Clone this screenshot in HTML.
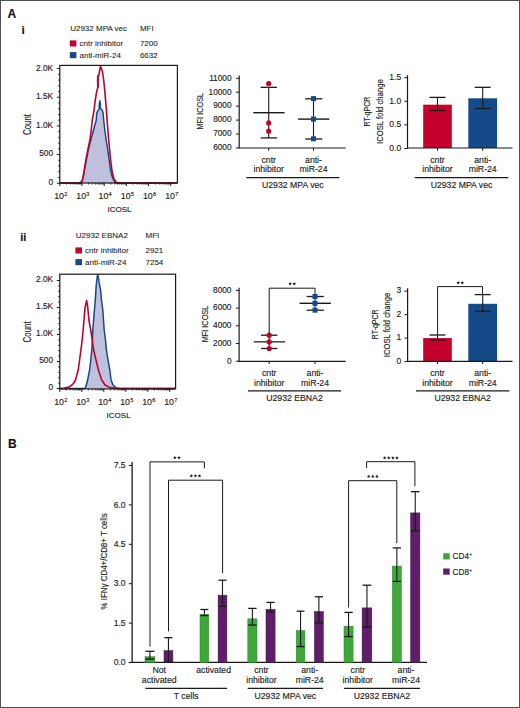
<!DOCTYPE html>
<html><head><meta charset="utf-8"><style>
html,body{margin:0;padding:0;background:#fff;}
svg{display:block;font-family:"Liberation Sans", sans-serif;}
text{stroke:#2a2a2a;stroke-width:0.15px;paint-order:stroke;}
text.thin{stroke-width:0.08px;}
</style></head><body>
<svg width="520" height="708" viewBox="0 0 520 708">
<rect x="0" y="0" width="520" height="708" fill="#fff"/>
<rect x="0.5" y="0.5" width="519" height="707" fill="none" stroke="#505050" stroke-width="1"/>
<text x="7.4" y="17.6" font-size="12" text-anchor="start" fill="#111" font-weight="bold" >A</text>
<text x="21.5" y="34.3" font-size="11.8" text-anchor="start" fill="#111" font-weight="bold" >i</text>
<text x="20.2" y="241.2" font-size="11" text-anchor="start" fill="#111" font-weight="bold" >ii</text>
<text x="8.0" y="448.4" font-size="12" text-anchor="start" fill="#111" font-weight="bold" >B</text>
<line x1="97.9" y1="75.5" x2="98.0" y2="87.5" stroke="#c5002b" stroke-width="2.0"/>
<text x="70.2" y="31" font-size="8.0" text-anchor="start" fill="#222" font-weight="normal"  class="thin">U2932 MPA vec</text>
<text x="139.9" y="31" font-size="8.0" text-anchor="start" fill="#222" font-weight="normal"  class="thin">MFI</text>
<rect x="69.80000000000001" y="40.4" width="6.6" height="6.1" fill="#c5002b"/>
<text x="79.5" y="46" font-size="8.0" text-anchor="start" fill="#222" font-weight="normal"  class="thin">cntr inhibitor</text>
<text x="139.9" y="46" font-size="8.0" text-anchor="start" fill="#222" font-weight="normal"  class="thin">7200</text>
<rect x="69.80000000000001" y="52.1" width="6.6" height="6.1" fill="#144a88"/>
<text x="79.5" y="57.6" font-size="8.0" text-anchor="start" fill="#222" font-weight="normal"  class="thin">anti-miR-24</text>
<text x="139.9" y="57.6" font-size="8.0" text-anchor="start" fill="#222" font-weight="normal"  class="thin">6632</text>
<polygon points="60,183 80,183 81.6,182.4 83.0,178 84.4,170 86.3,160 88.3,150 90.8,140 93.5,130 95.2,124 96.3,120 96.6,114 97.6,111 99.2,109.5 99.3,104 99.8,100.8 100.3,104 100.4,108.5 101.8,109.5 102.9,112 103.7,120 104.8,130 106.2,140 107.8,150 109.2,160 110.5,170 112.5,178 115,182.4 118,183 177,183 177,183.2 60,183.2" fill="#bfc0dc"/>
<polyline points="60,183 80,183 81.6,182.4 83.0,178 84.4,170 86.3,160 88.3,150 90.8,140 93.5,130 95.2,124 96.3,120 96.6,114 97.6,111 99.2,109.5 99.3,104 99.8,100.8 100.3,104 100.4,108.5 101.8,109.5 102.9,112 103.7,120 104.8,130 106.2,140 107.8,150 109.2,160 110.5,170 112.5,178 115,182.4 118,183 177,183" fill="none" stroke="#144a88" stroke-width="1.5" stroke-linejoin="round"/>
<polyline points="60,183 70,183 78,183 80.5,182.4 82.5,180 84,172 85.9,160 87.8,150 89.9,140 91.2,130 92.3,120 93.8,112 95.2,100.5 96.6,92 97.9,87 97.6,80 98.2,76 99.0,74.5 99.6,71 100.5,66.2 101.4,68.5 102.4,71.6 103.4,78 103.8,81.2 104.7,90 105.6,100.5 106.4,110 107.2,121.6 108.7,140 110.6,160 112.2,172 114,179 116.6,182.4 120,183 177,183" fill="none" stroke="#c5002b" stroke-width="1.6" stroke-linejoin="round"/>
<rect x="59.8" y="65.4" width="117.60000000000001" height="117.6" fill="none" stroke="#1a1a1a" stroke-width="1.2"/>
<line x1="56.8" y1="183.2" x2="59.8" y2="183.2" stroke="#1a1a1a" stroke-width="1"/>
<line x1="58.199999999999996" y1="177.47" x2="59.8" y2="177.47" stroke="#1a1a1a" stroke-width="1"/>
<line x1="58.199999999999996" y1="171.74" x2="59.8" y2="171.74" stroke="#1a1a1a" stroke-width="1"/>
<line x1="58.199999999999996" y1="166.01" x2="59.8" y2="166.01" stroke="#1a1a1a" stroke-width="1"/>
<line x1="58.199999999999996" y1="160.28" x2="59.8" y2="160.28" stroke="#1a1a1a" stroke-width="1"/>
<line x1="56.8" y1="154.55" x2="59.8" y2="154.55" stroke="#1a1a1a" stroke-width="1"/>
<line x1="58.199999999999996" y1="148.82" x2="59.8" y2="148.82" stroke="#1a1a1a" stroke-width="1"/>
<line x1="58.199999999999996" y1="143.09" x2="59.8" y2="143.09" stroke="#1a1a1a" stroke-width="1"/>
<line x1="58.199999999999996" y1="137.36" x2="59.8" y2="137.36" stroke="#1a1a1a" stroke-width="1"/>
<line x1="58.199999999999996" y1="131.63" x2="59.8" y2="131.63" stroke="#1a1a1a" stroke-width="1"/>
<line x1="56.8" y1="125.9" x2="59.8" y2="125.9" stroke="#1a1a1a" stroke-width="1"/>
<line x1="58.199999999999996" y1="120.17" x2="59.8" y2="120.17" stroke="#1a1a1a" stroke-width="1"/>
<line x1="58.199999999999996" y1="114.44" x2="59.8" y2="114.44" stroke="#1a1a1a" stroke-width="1"/>
<line x1="58.199999999999996" y1="108.71" x2="59.8" y2="108.71" stroke="#1a1a1a" stroke-width="1"/>
<line x1="58.199999999999996" y1="102.98" x2="59.8" y2="102.98" stroke="#1a1a1a" stroke-width="1"/>
<line x1="56.8" y1="97.25" x2="59.8" y2="97.25" stroke="#1a1a1a" stroke-width="1"/>
<line x1="58.199999999999996" y1="91.52" x2="59.8" y2="91.52" stroke="#1a1a1a" stroke-width="1"/>
<line x1="58.199999999999996" y1="85.79" x2="59.8" y2="85.79" stroke="#1a1a1a" stroke-width="1"/>
<line x1="58.199999999999996" y1="80.06" x2="59.8" y2="80.06" stroke="#1a1a1a" stroke-width="1"/>
<line x1="58.199999999999996" y1="74.33" x2="59.8" y2="74.33" stroke="#1a1a1a" stroke-width="1"/>
<line x1="56.8" y1="68.6" x2="59.8" y2="68.6" stroke="#1a1a1a" stroke-width="1"/>
<text x="53.099999999999994" y="185.1" font-size="8.3" text-anchor="end" fill="#222" font-weight="normal" >0</text>
<text x="53.099999999999994" y="156.45" font-size="8.3" text-anchor="end" fill="#222" font-weight="normal" >500</text>
<text x="53.099999999999994" y="127.8" font-size="8.3" text-anchor="end" fill="#222" font-weight="normal" >1.0K</text>
<text x="53.099999999999994" y="99.15" font-size="8.3" text-anchor="end" fill="#222" font-weight="normal" >1.5K</text>
<text x="53.099999999999994" y="70.5" font-size="8.3" text-anchor="end" fill="#222" font-weight="normal" >2.0K</text>
<line x1="59.8" y1="183" x2="59.8" y2="186" stroke="#1a1a1a" stroke-width="1"/>
<line x1="66.48" y1="183" x2="66.48" y2="184.6" stroke="#1a1a1a" stroke-width="0.8"/>
<line x1="70.39" y1="183" x2="70.39" y2="184.6" stroke="#1a1a1a" stroke-width="0.8"/>
<line x1="73.17" y1="183" x2="73.17" y2="184.6" stroke="#1a1a1a" stroke-width="0.8"/>
<line x1="75.32" y1="183" x2="75.32" y2="184.6" stroke="#1a1a1a" stroke-width="0.8"/>
<line x1="77.07" y1="183" x2="77.07" y2="184.6" stroke="#1a1a1a" stroke-width="0.8"/>
<line x1="78.56" y1="183" x2="78.56" y2="184.6" stroke="#1a1a1a" stroke-width="0.8"/>
<line x1="79.85" y1="183" x2="79.85" y2="184.6" stroke="#1a1a1a" stroke-width="0.8"/>
<line x1="80.98" y1="183" x2="80.98" y2="184.6" stroke="#1a1a1a" stroke-width="0.8"/>
<text x="60.70" y="198.70" font-size="8.8" text-anchor="middle" fill="#222">10<tspan font-size="5.6" dy="-3.0" dx="0.2">2</tspan></text>
<line x1="82.0" y1="183" x2="82.0" y2="186" stroke="#1a1a1a" stroke-width="1"/>
<line x1="88.68" y1="183" x2="88.68" y2="184.6" stroke="#1a1a1a" stroke-width="0.8"/>
<line x1="92.59" y1="183" x2="92.59" y2="184.6" stroke="#1a1a1a" stroke-width="0.8"/>
<line x1="95.37" y1="183" x2="95.37" y2="184.6" stroke="#1a1a1a" stroke-width="0.8"/>
<line x1="97.52" y1="183" x2="97.52" y2="184.6" stroke="#1a1a1a" stroke-width="0.8"/>
<line x1="99.27" y1="183" x2="99.27" y2="184.6" stroke="#1a1a1a" stroke-width="0.8"/>
<line x1="100.76" y1="183" x2="100.76" y2="184.6" stroke="#1a1a1a" stroke-width="0.8"/>
<line x1="102.05" y1="183" x2="102.05" y2="184.6" stroke="#1a1a1a" stroke-width="0.8"/>
<line x1="103.18" y1="183" x2="103.18" y2="184.6" stroke="#1a1a1a" stroke-width="0.8"/>
<text x="82.90" y="198.70" font-size="8.8" text-anchor="middle" fill="#222">10<tspan font-size="5.6" dy="-3.0" dx="0.2">3</tspan></text>
<line x1="104.2" y1="183" x2="104.2" y2="186" stroke="#1a1a1a" stroke-width="1"/>
<line x1="110.88" y1="183" x2="110.88" y2="184.6" stroke="#1a1a1a" stroke-width="0.8"/>
<line x1="114.79" y1="183" x2="114.79" y2="184.6" stroke="#1a1a1a" stroke-width="0.8"/>
<line x1="117.57" y1="183" x2="117.57" y2="184.6" stroke="#1a1a1a" stroke-width="0.8"/>
<line x1="119.72" y1="183" x2="119.72" y2="184.6" stroke="#1a1a1a" stroke-width="0.8"/>
<line x1="121.47" y1="183" x2="121.47" y2="184.6" stroke="#1a1a1a" stroke-width="0.8"/>
<line x1="122.96" y1="183" x2="122.96" y2="184.6" stroke="#1a1a1a" stroke-width="0.8"/>
<line x1="124.25" y1="183" x2="124.25" y2="184.6" stroke="#1a1a1a" stroke-width="0.8"/>
<line x1="125.38" y1="183" x2="125.38" y2="184.6" stroke="#1a1a1a" stroke-width="0.8"/>
<text x="105.10" y="198.70" font-size="8.8" text-anchor="middle" fill="#222">10<tspan font-size="5.6" dy="-3.0" dx="0.2">4</tspan></text>
<line x1="126.4" y1="183" x2="126.4" y2="186" stroke="#1a1a1a" stroke-width="1"/>
<line x1="133.08" y1="183" x2="133.08" y2="184.6" stroke="#1a1a1a" stroke-width="0.8"/>
<line x1="136.99" y1="183" x2="136.99" y2="184.6" stroke="#1a1a1a" stroke-width="0.8"/>
<line x1="139.77" y1="183" x2="139.77" y2="184.6" stroke="#1a1a1a" stroke-width="0.8"/>
<line x1="141.92" y1="183" x2="141.92" y2="184.6" stroke="#1a1a1a" stroke-width="0.8"/>
<line x1="143.67" y1="183" x2="143.67" y2="184.6" stroke="#1a1a1a" stroke-width="0.8"/>
<line x1="145.16" y1="183" x2="145.16" y2="184.6" stroke="#1a1a1a" stroke-width="0.8"/>
<line x1="146.45" y1="183" x2="146.45" y2="184.6" stroke="#1a1a1a" stroke-width="0.8"/>
<line x1="147.58" y1="183" x2="147.58" y2="184.6" stroke="#1a1a1a" stroke-width="0.8"/>
<text x="127.30" y="198.70" font-size="8.8" text-anchor="middle" fill="#222">10<tspan font-size="5.6" dy="-3.0" dx="0.2">5</tspan></text>
<line x1="148.6" y1="183" x2="148.6" y2="186" stroke="#1a1a1a" stroke-width="1"/>
<line x1="155.28" y1="183" x2="155.28" y2="184.6" stroke="#1a1a1a" stroke-width="0.8"/>
<line x1="159.19" y1="183" x2="159.19" y2="184.6" stroke="#1a1a1a" stroke-width="0.8"/>
<line x1="161.97" y1="183" x2="161.97" y2="184.6" stroke="#1a1a1a" stroke-width="0.8"/>
<line x1="164.12" y1="183" x2="164.12" y2="184.6" stroke="#1a1a1a" stroke-width="0.8"/>
<line x1="165.87" y1="183" x2="165.87" y2="184.6" stroke="#1a1a1a" stroke-width="0.8"/>
<line x1="167.36" y1="183" x2="167.36" y2="184.6" stroke="#1a1a1a" stroke-width="0.8"/>
<line x1="168.65" y1="183" x2="168.65" y2="184.6" stroke="#1a1a1a" stroke-width="0.8"/>
<line x1="169.78" y1="183" x2="169.78" y2="184.6" stroke="#1a1a1a" stroke-width="0.8"/>
<text x="149.50" y="198.70" font-size="8.8" text-anchor="middle" fill="#222">10<tspan font-size="5.6" dy="-3.0" dx="0.2">6</tspan></text>
<line x1="170.8" y1="183" x2="170.8" y2="186" stroke="#1a1a1a" stroke-width="1"/>
<text x="171.70" y="198.70" font-size="8.8" text-anchor="middle" fill="#222">10<tspan font-size="5.6" dy="-3.0" dx="0.2">7</tspan></text>
<text x="119.5" y="211.6" font-size="8.0" text-anchor="middle" fill="#222" font-weight="normal" >ICOSL</text>
<text transform="translate(26.6,124.5) rotate(-90)" x="0" y="3.94" font-size="11" text-anchor="middle" fill="#222" textLength="21.0" lengthAdjust="spacingAndGlyphs">Count</text>
<text x="75.8" y="238" font-size="8.0" text-anchor="start" fill="#222" font-weight="normal"  class="thin">U2932 EBNA2</text>
<text x="145.5" y="238" font-size="8.0" text-anchor="start" fill="#222" font-weight="normal"  class="thin">MFI</text>
<rect x="75.4" y="247.4" width="6.6" height="6.1" fill="#c5002b"/>
<text x="85.1" y="253" font-size="8.0" text-anchor="start" fill="#222" font-weight="normal"  class="thin">cntr inhibitor</text>
<text x="145.5" y="253" font-size="8.0" text-anchor="start" fill="#222" font-weight="normal"  class="thin">2921</text>
<rect x="75.4" y="259.1" width="6.6" height="6.1" fill="#144a88"/>
<text x="85.1" y="264.6" font-size="8.0" text-anchor="start" fill="#222" font-weight="normal"  class="thin">anti-miR-24</text>
<text x="145.5" y="264.6" font-size="8.0" text-anchor="start" fill="#222" font-weight="normal"  class="thin">7254</text>
<polygon points="60,388.6 84,388.6 85.6,387.8 87.6,380 89.6,370 90.8,360 91.8,350 92.4,340 92.8,330 93.6,320 94.4,310 95.3,300 95.9,290 96.5,282 97.2,277 97.7,274.6 98.5,278 99.2,283 100.6,290 101.5,300 102.8,310 103.5,320 104.2,330 105.5,340 106.4,350 108,360 109.8,370 111.1,380 113,385 116.5,388 120,388.6 175,388.6 175,388.5 60,388.5" fill="#bfc0dc"/>
<polyline points="60,388.6 84,388.6 85.6,387.8 87.6,380 89.6,370 90.8,360 91.8,350 92.4,340 92.8,330 93.6,320 94.4,310 95.3,300 95.9,290 96.5,282 97.2,277 97.7,274.6 98.5,278 99.2,283 100.6,290 101.5,300 102.8,310 103.5,320 104.2,330 105.5,340 106.4,350 108,360 109.8,370 111.1,380 113,385 116.5,388 120,388.6 175,388.6" fill="none" stroke="#144a88" stroke-width="1.5" stroke-linejoin="round"/>
<polyline points="60,388.6 64,388.2 66,387.6 69,387 72,385 74,382.5 75.5,380 78.2,370 79.6,360 80.9,350 82.2,340 83.1,330 84,320 85,308 86.6,300.3 87.6,306 88.2,312 88.9,320 90.7,330 92.3,340 93.6,350 96,360 98.4,370 101.7,380 105,385 110,387.6 116.5,388.3 120,388.6 175,388.6" fill="none" stroke="#c5002b" stroke-width="1.6" stroke-linejoin="round"/>
<rect x="59.8" y="274.2" width="115.8" height="114.69999999999999" fill="none" stroke="#1a1a1a" stroke-width="1.2"/>
<line x1="56.8" y1="388.5" x2="59.8" y2="388.5" stroke="#1a1a1a" stroke-width="1"/>
<line x1="58.199999999999996" y1="383.1" x2="59.8" y2="383.1" stroke="#1a1a1a" stroke-width="1"/>
<line x1="58.199999999999996" y1="377.7" x2="59.8" y2="377.7" stroke="#1a1a1a" stroke-width="1"/>
<line x1="58.199999999999996" y1="372.3" x2="59.8" y2="372.3" stroke="#1a1a1a" stroke-width="1"/>
<line x1="58.199999999999996" y1="366.9" x2="59.8" y2="366.9" stroke="#1a1a1a" stroke-width="1"/>
<line x1="56.8" y1="361.5" x2="59.8" y2="361.5" stroke="#1a1a1a" stroke-width="1"/>
<line x1="58.199999999999996" y1="356.1" x2="59.8" y2="356.1" stroke="#1a1a1a" stroke-width="1"/>
<line x1="58.199999999999996" y1="350.7" x2="59.8" y2="350.7" stroke="#1a1a1a" stroke-width="1"/>
<line x1="58.199999999999996" y1="345.3" x2="59.8" y2="345.3" stroke="#1a1a1a" stroke-width="1"/>
<line x1="58.199999999999996" y1="339.9" x2="59.8" y2="339.9" stroke="#1a1a1a" stroke-width="1"/>
<line x1="56.8" y1="334.5" x2="59.8" y2="334.5" stroke="#1a1a1a" stroke-width="1"/>
<line x1="58.199999999999996" y1="329.1" x2="59.8" y2="329.1" stroke="#1a1a1a" stroke-width="1"/>
<line x1="58.199999999999996" y1="323.7" x2="59.8" y2="323.7" stroke="#1a1a1a" stroke-width="1"/>
<line x1="58.199999999999996" y1="318.3" x2="59.8" y2="318.3" stroke="#1a1a1a" stroke-width="1"/>
<line x1="58.199999999999996" y1="312.9" x2="59.8" y2="312.9" stroke="#1a1a1a" stroke-width="1"/>
<line x1="56.8" y1="307.5" x2="59.8" y2="307.5" stroke="#1a1a1a" stroke-width="1"/>
<line x1="58.199999999999996" y1="302.1" x2="59.8" y2="302.1" stroke="#1a1a1a" stroke-width="1"/>
<line x1="58.199999999999996" y1="296.7" x2="59.8" y2="296.7" stroke="#1a1a1a" stroke-width="1"/>
<line x1="58.199999999999996" y1="291.3" x2="59.8" y2="291.3" stroke="#1a1a1a" stroke-width="1"/>
<line x1="58.199999999999996" y1="285.9" x2="59.8" y2="285.9" stroke="#1a1a1a" stroke-width="1"/>
<line x1="56.8" y1="280.5" x2="59.8" y2="280.5" stroke="#1a1a1a" stroke-width="1"/>
<text x="53.099999999999994" y="390.4" font-size="8.3" text-anchor="end" fill="#222" font-weight="normal" >0</text>
<text x="53.099999999999994" y="363.4" font-size="8.3" text-anchor="end" fill="#222" font-weight="normal" >500</text>
<text x="53.099999999999994" y="336.4" font-size="8.3" text-anchor="end" fill="#222" font-weight="normal" >1.0K</text>
<text x="53.099999999999994" y="309.4" font-size="8.3" text-anchor="end" fill="#222" font-weight="normal" >1.5K</text>
<text x="53.099999999999994" y="282.4" font-size="8.3" text-anchor="end" fill="#222" font-weight="normal" >2.0K</text>
<line x1="59.8" y1="388.9" x2="59.8" y2="391.9" stroke="#1a1a1a" stroke-width="1"/>
<line x1="66.42" y1="388.9" x2="66.42" y2="390.5" stroke="#1a1a1a" stroke-width="0.8"/>
<line x1="70.3" y1="388.9" x2="70.3" y2="390.5" stroke="#1a1a1a" stroke-width="0.8"/>
<line x1="73.05" y1="388.9" x2="73.05" y2="390.5" stroke="#1a1a1a" stroke-width="0.8"/>
<line x1="75.18" y1="388.9" x2="75.18" y2="390.5" stroke="#1a1a1a" stroke-width="0.8"/>
<line x1="76.92" y1="388.9" x2="76.92" y2="390.5" stroke="#1a1a1a" stroke-width="0.8"/>
<line x1="78.39" y1="388.9" x2="78.39" y2="390.5" stroke="#1a1a1a" stroke-width="0.8"/>
<line x1="79.67" y1="388.9" x2="79.67" y2="390.5" stroke="#1a1a1a" stroke-width="0.8"/>
<line x1="80.79" y1="388.9" x2="80.79" y2="390.5" stroke="#1a1a1a" stroke-width="0.8"/>
<text x="60.70" y="404.60" font-size="8.8" text-anchor="middle" fill="#222">10<tspan font-size="5.6" dy="-3.0" dx="0.2">2</tspan></text>
<line x1="81.8" y1="388.9" x2="81.8" y2="391.9" stroke="#1a1a1a" stroke-width="1"/>
<line x1="88.42" y1="388.9" x2="88.42" y2="390.5" stroke="#1a1a1a" stroke-width="0.8"/>
<line x1="92.3" y1="388.9" x2="92.3" y2="390.5" stroke="#1a1a1a" stroke-width="0.8"/>
<line x1="95.05" y1="388.9" x2="95.05" y2="390.5" stroke="#1a1a1a" stroke-width="0.8"/>
<line x1="97.18" y1="388.9" x2="97.18" y2="390.5" stroke="#1a1a1a" stroke-width="0.8"/>
<line x1="98.92" y1="388.9" x2="98.92" y2="390.5" stroke="#1a1a1a" stroke-width="0.8"/>
<line x1="100.39" y1="388.9" x2="100.39" y2="390.5" stroke="#1a1a1a" stroke-width="0.8"/>
<line x1="101.67" y1="388.9" x2="101.67" y2="390.5" stroke="#1a1a1a" stroke-width="0.8"/>
<line x1="102.79" y1="388.9" x2="102.79" y2="390.5" stroke="#1a1a1a" stroke-width="0.8"/>
<text x="82.70" y="404.60" font-size="8.8" text-anchor="middle" fill="#222">10<tspan font-size="5.6" dy="-3.0" dx="0.2">3</tspan></text>
<line x1="103.8" y1="388.9" x2="103.8" y2="391.9" stroke="#1a1a1a" stroke-width="1"/>
<line x1="110.42" y1="388.9" x2="110.42" y2="390.5" stroke="#1a1a1a" stroke-width="0.8"/>
<line x1="114.3" y1="388.9" x2="114.3" y2="390.5" stroke="#1a1a1a" stroke-width="0.8"/>
<line x1="117.05" y1="388.9" x2="117.05" y2="390.5" stroke="#1a1a1a" stroke-width="0.8"/>
<line x1="119.18" y1="388.9" x2="119.18" y2="390.5" stroke="#1a1a1a" stroke-width="0.8"/>
<line x1="120.92" y1="388.9" x2="120.92" y2="390.5" stroke="#1a1a1a" stroke-width="0.8"/>
<line x1="122.39" y1="388.9" x2="122.39" y2="390.5" stroke="#1a1a1a" stroke-width="0.8"/>
<line x1="123.67" y1="388.9" x2="123.67" y2="390.5" stroke="#1a1a1a" stroke-width="0.8"/>
<line x1="124.79" y1="388.9" x2="124.79" y2="390.5" stroke="#1a1a1a" stroke-width="0.8"/>
<text x="104.70" y="404.60" font-size="8.8" text-anchor="middle" fill="#222">10<tspan font-size="5.6" dy="-3.0" dx="0.2">4</tspan></text>
<line x1="125.8" y1="388.9" x2="125.8" y2="391.9" stroke="#1a1a1a" stroke-width="1"/>
<line x1="132.42" y1="388.9" x2="132.42" y2="390.5" stroke="#1a1a1a" stroke-width="0.8"/>
<line x1="136.3" y1="388.9" x2="136.3" y2="390.5" stroke="#1a1a1a" stroke-width="0.8"/>
<line x1="139.05" y1="388.9" x2="139.05" y2="390.5" stroke="#1a1a1a" stroke-width="0.8"/>
<line x1="141.18" y1="388.9" x2="141.18" y2="390.5" stroke="#1a1a1a" stroke-width="0.8"/>
<line x1="142.92" y1="388.9" x2="142.92" y2="390.5" stroke="#1a1a1a" stroke-width="0.8"/>
<line x1="144.39" y1="388.9" x2="144.39" y2="390.5" stroke="#1a1a1a" stroke-width="0.8"/>
<line x1="145.67" y1="388.9" x2="145.67" y2="390.5" stroke="#1a1a1a" stroke-width="0.8"/>
<line x1="146.79" y1="388.9" x2="146.79" y2="390.5" stroke="#1a1a1a" stroke-width="0.8"/>
<text x="126.70" y="404.60" font-size="8.8" text-anchor="middle" fill="#222">10<tspan font-size="5.6" dy="-3.0" dx="0.2">5</tspan></text>
<line x1="147.8" y1="388.9" x2="147.8" y2="391.9" stroke="#1a1a1a" stroke-width="1"/>
<line x1="154.42" y1="388.9" x2="154.42" y2="390.5" stroke="#1a1a1a" stroke-width="0.8"/>
<line x1="158.3" y1="388.9" x2="158.3" y2="390.5" stroke="#1a1a1a" stroke-width="0.8"/>
<line x1="161.05" y1="388.9" x2="161.05" y2="390.5" stroke="#1a1a1a" stroke-width="0.8"/>
<line x1="163.18" y1="388.9" x2="163.18" y2="390.5" stroke="#1a1a1a" stroke-width="0.8"/>
<line x1="164.92" y1="388.9" x2="164.92" y2="390.5" stroke="#1a1a1a" stroke-width="0.8"/>
<line x1="166.39" y1="388.9" x2="166.39" y2="390.5" stroke="#1a1a1a" stroke-width="0.8"/>
<line x1="167.67" y1="388.9" x2="167.67" y2="390.5" stroke="#1a1a1a" stroke-width="0.8"/>
<line x1="168.79" y1="388.9" x2="168.79" y2="390.5" stroke="#1a1a1a" stroke-width="0.8"/>
<text x="148.70" y="404.60" font-size="8.8" text-anchor="middle" fill="#222">10<tspan font-size="5.6" dy="-3.0" dx="0.2">6</tspan></text>
<line x1="169.8" y1="388.9" x2="169.8" y2="391.9" stroke="#1a1a1a" stroke-width="1"/>
<text x="170.70" y="404.60" font-size="8.8" text-anchor="middle" fill="#222">10<tspan font-size="5.6" dy="-3.0" dx="0.2">7</tspan></text>
<text x="118.6" y="417.5" font-size="8.0" text-anchor="middle" fill="#222" font-weight="normal" >ICOSL</text>
<text transform="translate(26.6,331.9) rotate(-90)" x="0" y="3.94" font-size="11" text-anchor="middle" fill="#222" textLength="21.0" lengthAdjust="spacingAndGlyphs">Count</text>
<line x1="239.2" y1="75.4" x2="239.2" y2="148" stroke="#1a1a1a" stroke-width="1.2"/>
<line x1="236.0" y1="78.3" x2="239.2" y2="78.3" stroke="#1a1a1a" stroke-width="1"/>
<text x="231.6" y="80.6" font-size="8.3" text-anchor="end" fill="#222" font-weight="normal" >11000</text>
<line x1="236.0" y1="92.2" x2="239.2" y2="92.2" stroke="#1a1a1a" stroke-width="1"/>
<text x="231.6" y="94.5" font-size="8.3" text-anchor="end" fill="#222" font-weight="normal" >10000</text>
<line x1="236.0" y1="106.1" x2="239.2" y2="106.1" stroke="#1a1a1a" stroke-width="1"/>
<text x="231.6" y="108.4" font-size="8.3" text-anchor="end" fill="#222" font-weight="normal" >9000</text>
<line x1="236.0" y1="120.1" x2="239.2" y2="120.1" stroke="#1a1a1a" stroke-width="1"/>
<text x="231.6" y="122.4" font-size="8.3" text-anchor="end" fill="#222" font-weight="normal" >8000</text>
<line x1="236.0" y1="134.0" x2="239.2" y2="134.0" stroke="#1a1a1a" stroke-width="1"/>
<text x="231.6" y="136.3" font-size="8.3" text-anchor="end" fill="#222" font-weight="normal" >7000</text>
<line x1="236.0" y1="148.0" x2="239.2" y2="148.0" stroke="#1a1a1a" stroke-width="1"/>
<text x="231.6" y="150.3" font-size="8.3" text-anchor="end" fill="#222" font-weight="normal" >6000</text>
<line x1="238.6" y1="148" x2="345.7" y2="148" stroke="#1a1a1a" stroke-width="1.2"/>
<line x1="268.7" y1="148" x2="268.7" y2="150.8" stroke="#1a1a1a" stroke-width="1"/>
<line x1="313.5" y1="148" x2="313.5" y2="150.8" stroke="#1a1a1a" stroke-width="1"/>
<line x1="268.7" y1="87.3" x2="268.7" y2="137.9" stroke="#1a1a1a" stroke-width="1.1"/>
<line x1="260.59999999999997" y1="87.3" x2="276.9" y2="87.3" stroke="#1a1a1a" stroke-width="1.3"/>
<line x1="260.59999999999997" y1="137.9" x2="276.9" y2="137.9" stroke="#1a1a1a" stroke-width="1.3"/>
<line x1="253.29999999999998" y1="112.7" x2="284.59999999999997" y2="112.7" stroke="#1a1a1a" stroke-width="1.4"/>
<circle cx="268.7" cy="83.5" r="2.6" fill="#c5002b"/>
<circle cx="268.7" cy="122.9" r="2.6" fill="#c5002b"/>
<circle cx="268.7" cy="131.2" r="2.6" fill="#c5002b"/>
<line x1="313.5" y1="98.8" x2="313.5" y2="139.0" stroke="#1a1a1a" stroke-width="1.1"/>
<line x1="305.2" y1="98.8" x2="322.3" y2="98.8" stroke="#1a1a1a" stroke-width="1.3"/>
<line x1="305.2" y1="139.0" x2="322.3" y2="139.0" stroke="#1a1a1a" stroke-width="1.3"/>
<line x1="298.1" y1="119.1" x2="329.4" y2="119.1" stroke="#1a1a1a" stroke-width="1.4"/>
<rect x="311.0" y="96.1" width="5" height="5" fill="#144a88"/>
<rect x="311.0" y="116.6" width="5" height="5" fill="#144a88"/>
<rect x="311.0" y="136.3" width="5" height="5" fill="#144a88"/>
<text x="268.7" y="162.6" font-size="8.7" text-anchor="middle" fill="#222" font-weight="normal" >cntr</text>
<text x="268.7" y="172.2" font-size="8.7" text-anchor="middle" fill="#222" font-weight="normal" >inhibitor</text>
<text x="313.5" y="162.6" font-size="8.7" text-anchor="middle" fill="#222" font-weight="normal" >anti-</text>
<text x="313.5" y="172.2" font-size="8.7" text-anchor="middle" fill="#222" font-weight="normal" >miR-24</text>
<line x1="246.3" y1="177.6" x2="339.4" y2="177.6" stroke="#1a1a1a" stroke-width="1.1"/>
<text x="292.85" y="188" font-size="8.7" text-anchor="middle" fill="#222" font-weight="normal" >U2932 MPA vec</text>
<text transform="translate(199.7,111.2) rotate(-90)" x="0" y="3.54" font-size="9.9" text-anchor="middle" fill="#222" textLength="36.6" lengthAdjust="spacingAndGlyphs">MFI ICOSL</text>
<line x1="239.1" y1="287.8" x2="239.1" y2="361.3" stroke="#1a1a1a" stroke-width="1.2"/>
<line x1="235.9" y1="290.4" x2="239.1" y2="290.4" stroke="#1a1a1a" stroke-width="1"/>
<text x="231.5" y="292.7" font-size="8.3" text-anchor="end" fill="#222" font-weight="normal" >8000</text>
<line x1="235.9" y1="308.1" x2="239.1" y2="308.1" stroke="#1a1a1a" stroke-width="1"/>
<text x="231.5" y="310.4" font-size="8.3" text-anchor="end" fill="#222" font-weight="normal" >6000</text>
<line x1="235.9" y1="325.8" x2="239.1" y2="325.8" stroke="#1a1a1a" stroke-width="1"/>
<text x="231.5" y="328.1" font-size="8.3" text-anchor="end" fill="#222" font-weight="normal" >4000</text>
<line x1="235.9" y1="343.5" x2="239.1" y2="343.5" stroke="#1a1a1a" stroke-width="1"/>
<text x="231.5" y="345.8" font-size="8.3" text-anchor="end" fill="#222" font-weight="normal" >2000</text>
<line x1="235.9" y1="361.2" x2="239.1" y2="361.2" stroke="#1a1a1a" stroke-width="1"/>
<text x="231.5" y="363.5" font-size="8.3" text-anchor="end" fill="#222" font-weight="normal" >0</text>
<line x1="238.5" y1="361.3" x2="345.7" y2="361.3" stroke="#1a1a1a" stroke-width="1.2"/>
<line x1="269.2" y1="361.3" x2="269.2" y2="364.1" stroke="#1a1a1a" stroke-width="1"/>
<line x1="315.0" y1="361.3" x2="315.0" y2="364.1" stroke="#1a1a1a" stroke-width="1"/>
<line x1="269.2" y1="335.2" x2="269.2" y2="348.5" stroke="#1a1a1a" stroke-width="1.1"/>
<line x1="261.09999999999997" y1="335.2" x2="277.4" y2="335.2" stroke="#1a1a1a" stroke-width="1.3"/>
<line x1="261.09999999999997" y1="348.5" x2="277.4" y2="348.5" stroke="#1a1a1a" stroke-width="1.3"/>
<line x1="253.79999999999998" y1="341.9" x2="285.09999999999997" y2="341.9" stroke="#1a1a1a" stroke-width="1.4"/>
<circle cx="269.2" cy="335.2" r="2.6" fill="#c5002b"/>
<circle cx="269.2" cy="341.9" r="2.6" fill="#c5002b"/>
<circle cx="269.2" cy="348.5" r="2.6" fill="#c5002b"/>
<line x1="315.0" y1="296.5" x2="315.0" y2="310.2" stroke="#1a1a1a" stroke-width="1.1"/>
<line x1="306.7" y1="296.5" x2="323.8" y2="296.5" stroke="#1a1a1a" stroke-width="1.3"/>
<line x1="306.7" y1="310.2" x2="323.8" y2="310.2" stroke="#1a1a1a" stroke-width="1.3"/>
<line x1="299.6" y1="303.3" x2="330.9" y2="303.3" stroke="#1a1a1a" stroke-width="1.4"/>
<rect x="312.5" y="294.0" width="5" height="5" fill="#144a88"/>
<rect x="312.5" y="300.8" width="5" height="5" fill="#144a88"/>
<rect x="312.5" y="307.7" width="5" height="5" fill="#144a88"/>
<text x="269.2" y="375.90000000000003" font-size="8.7" text-anchor="middle" fill="#222" font-weight="normal" >cntr</text>
<text x="269.2" y="385.5" font-size="8.7" text-anchor="middle" fill="#222" font-weight="normal" >inhibitor</text>
<text x="315.0" y="375.90000000000003" font-size="8.7" text-anchor="middle" fill="#222" font-weight="normal" >anti-</text>
<text x="315.0" y="385.5" font-size="8.7" text-anchor="middle" fill="#222" font-weight="normal" >miR-24</text>
<line x1="248" y1="390.90000000000003" x2="341" y2="390.90000000000003" stroke="#1a1a1a" stroke-width="1.1"/>
<text x="294.5" y="401.3" font-size="8.7" text-anchor="middle" fill="#222" font-weight="normal" >U2932 EBNA2</text>
<text transform="translate(204.4,324.0) rotate(-90)" x="0" y="3.54" font-size="9.9" text-anchor="middle" fill="#222" textLength="36.6" lengthAdjust="spacingAndGlyphs">MFI ICOSL</text>
<rect x="423.2" y="104.7" width="28.6" height="43.3" fill="#c5002b"/>
<rect x="468.3" y="98.3" width="28.8" height="49.7" fill="#144a88"/>
<line x1="437.5" y1="97.4" x2="437.5" y2="110.5" stroke="#1a1a1a" stroke-width="1.1"/>
<line x1="429.5" y1="97.4" x2="445.5" y2="97.4" stroke="#1a1a1a" stroke-width="1.3"/>
<line x1="429.5" y1="110.5" x2="445.5" y2="110.5" stroke="#1a1a1a" stroke-width="1.3"/>
<line x1="482.7" y1="87.3" x2="482.7" y2="108.5" stroke="#1a1a1a" stroke-width="1.1"/>
<line x1="474.7" y1="87.3" x2="490.7" y2="87.3" stroke="#1a1a1a" stroke-width="1.3"/>
<line x1="474.7" y1="108.5" x2="490.7" y2="108.5" stroke="#1a1a1a" stroke-width="1.3"/>
<line x1="407.5" y1="75.1" x2="407.5" y2="148.0" stroke="#1a1a1a" stroke-width="1.2"/>
<line x1="404.3" y1="77.7" x2="407.5" y2="77.7" stroke="#1a1a1a" stroke-width="1"/>
<text x="401.2" y="80.0" font-size="8.5" text-anchor="end" fill="#222" font-weight="normal" >1.5</text>
<line x1="404.3" y1="101.3" x2="407.5" y2="101.3" stroke="#1a1a1a" stroke-width="1"/>
<text x="401.2" y="103.6" font-size="8.5" text-anchor="end" fill="#222" font-weight="normal" >1.0</text>
<line x1="404.3" y1="124.9" x2="407.5" y2="124.9" stroke="#1a1a1a" stroke-width="1"/>
<text x="401.2" y="127.2" font-size="8.5" text-anchor="end" fill="#222" font-weight="normal" >0.5</text>
<line x1="404.3" y1="148.5" x2="407.5" y2="148.5" stroke="#1a1a1a" stroke-width="1"/>
<text x="401.2" y="150.8" font-size="8.5" text-anchor="end" fill="#222" font-weight="normal" >0.0</text>
<line x1="406.9" y1="148.0" x2="512.5" y2="148.0" stroke="#1a1a1a" stroke-width="1.2"/>
<line x1="437.5" y1="148.0" x2="437.5" y2="150.8" stroke="#1a1a1a" stroke-width="1"/>
<line x1="482.7" y1="148.0" x2="482.7" y2="150.8" stroke="#1a1a1a" stroke-width="1"/>
<text x="437.5" y="162.6" font-size="8.7" text-anchor="middle" fill="#222" font-weight="normal" >cntr</text>
<text x="437.5" y="172.2" font-size="8.7" text-anchor="middle" fill="#222" font-weight="normal" >inhibitor</text>
<text x="482.7" y="162.6" font-size="8.7" text-anchor="middle" fill="#222" font-weight="normal" >anti-</text>
<text x="482.7" y="172.2" font-size="8.7" text-anchor="middle" fill="#222" font-weight="normal" >miR-24</text>
<line x1="414.7" y1="177.6" x2="508.3" y2="177.6" stroke="#1a1a1a" stroke-width="1.1"/>
<text x="461.5" y="188.0" font-size="8.7" text-anchor="middle" fill="#222" font-weight="normal" >U2932 MPA vec</text>
<text transform="translate(367.15,111.65) rotate(-90)" x="0" y="3.11" font-size="8.7" text-anchor="middle" fill="#222" textLength="29.7" lengthAdjust="spacingAndGlyphs">RT-qPCR</text>
<text transform="translate(379.45,111.6) rotate(-90)" x="0" y="3.11" font-size="8.7" text-anchor="middle" fill="#222" textLength="64.6" lengthAdjust="spacingAndGlyphs">ICOSL fold change</text>
<rect x="423.2" y="338.1" width="28.6" height="23.19999999999999" fill="#c5002b"/>
<rect x="468.3" y="303.8" width="28.8" height="57.5" fill="#144a88"/>
<line x1="437.5" y1="335.0" x2="437.5" y2="340.0" stroke="#1a1a1a" stroke-width="1.1"/>
<line x1="429.5" y1="335.0" x2="445.5" y2="335.0" stroke="#1a1a1a" stroke-width="1.3"/>
<line x1="429.5" y1="340.0" x2="445.5" y2="340.0" stroke="#1a1a1a" stroke-width="1.3"/>
<line x1="482.7" y1="294.6" x2="482.7" y2="311.2" stroke="#1a1a1a" stroke-width="1.1"/>
<line x1="474.7" y1="294.6" x2="490.7" y2="294.6" stroke="#1a1a1a" stroke-width="1.3"/>
<line x1="474.7" y1="311.2" x2="490.7" y2="311.2" stroke="#1a1a1a" stroke-width="1.3"/>
<line x1="407.6" y1="288.3" x2="407.6" y2="361.3" stroke="#1a1a1a" stroke-width="1.2"/>
<line x1="404.40000000000003" y1="291.1" x2="407.6" y2="291.1" stroke="#1a1a1a" stroke-width="1"/>
<text x="401.3" y="293.4" font-size="8.5" text-anchor="end" fill="#222" font-weight="normal" >3</text>
<line x1="404.40000000000003" y1="314.6" x2="407.6" y2="314.6" stroke="#1a1a1a" stroke-width="1"/>
<text x="401.3" y="316.9" font-size="8.5" text-anchor="end" fill="#222" font-weight="normal" >2</text>
<line x1="404.40000000000003" y1="338.1" x2="407.6" y2="338.1" stroke="#1a1a1a" stroke-width="1"/>
<text x="401.3" y="340.4" font-size="8.5" text-anchor="end" fill="#222" font-weight="normal" >1</text>
<line x1="404.40000000000003" y1="361.6" x2="407.6" y2="361.6" stroke="#1a1a1a" stroke-width="1"/>
<text x="401.3" y="363.9" font-size="8.5" text-anchor="end" fill="#222" font-weight="normal" >0</text>
<line x1="407.0" y1="361.3" x2="512.5" y2="361.3" stroke="#1a1a1a" stroke-width="1.2"/>
<line x1="437.5" y1="361.3" x2="437.5" y2="364.1" stroke="#1a1a1a" stroke-width="1"/>
<line x1="482.7" y1="361.3" x2="482.7" y2="364.1" stroke="#1a1a1a" stroke-width="1"/>
<text x="437.5" y="375.90000000000003" font-size="8.7" text-anchor="middle" fill="#222" font-weight="normal" >cntr</text>
<text x="437.5" y="385.5" font-size="8.7" text-anchor="middle" fill="#222" font-weight="normal" >inhibitor</text>
<text x="482.7" y="375.90000000000003" font-size="8.7" text-anchor="middle" fill="#222" font-weight="normal" >anti-</text>
<text x="482.7" y="385.5" font-size="8.7" text-anchor="middle" fill="#222" font-weight="normal" >miR-24</text>
<line x1="416" y1="390.90000000000003" x2="509.4" y2="390.90000000000003" stroke="#1a1a1a" stroke-width="1.1"/>
<text x="462.7" y="401.3" font-size="8.7" text-anchor="middle" fill="#222" font-weight="normal" >U2932 EBNA2</text>
<text transform="translate(374.95,324.3) rotate(-90)" x="0" y="3.11" font-size="8.7" text-anchor="middle" fill="#222" textLength="29.7" lengthAdjust="spacingAndGlyphs">RT-qPCR</text>
<text transform="translate(387.0,324.9) rotate(-90)" x="0" y="3.11" font-size="8.7" text-anchor="middle" fill="#222" textLength="64.6" lengthAdjust="spacingAndGlyphs">ICOSL fold change</text>
<polyline points="269.2,333.0 269.2,288.2 315.0,288.2 315.0,294.0" fill="none" stroke="#1a1a1a" stroke-width="1.0"/>
<polygon points="290.15,281.90 290.65,283.11 291.96,283.21 290.96,284.06 291.27,285.34 290.15,284.65 289.03,285.34 289.34,284.06 288.34,283.21 289.65,283.11" fill="#1a1a1a"/>
<polygon points="294.25,281.90 294.75,283.11 296.06,283.21 295.06,284.06 295.37,285.34 294.25,284.65 293.13,285.34 293.44,284.06 292.44,283.21 293.75,283.11" fill="#1a1a1a"/>
<polyline points="437.6,334.6 437.6,286.6 482.5,286.6 482.5,294.2" fill="none" stroke="#1a1a1a" stroke-width="1.0"/>
<polygon points="458.15,280.90 458.65,282.11 459.96,282.21 458.96,283.06 459.27,284.34 458.15,283.65 457.03,284.34 457.34,283.06 456.34,282.21 457.65,282.11" fill="#1a1a1a"/>
<polygon points="462.25,280.90 462.75,282.11 464.06,282.21 463.06,283.06 463.37,284.34 462.25,283.65 461.13,284.34 461.44,283.06 460.44,282.21 461.75,282.11" fill="#1a1a1a"/>
<line x1="132.1" y1="461.9" x2="132.1" y2="662.4" stroke="#1a1a1a" stroke-width="1.3"/>
<line x1="128.8" y1="662.5" x2="132.1" y2="662.5" stroke="#1a1a1a" stroke-width="1"/>
<text x="125.6" y="665.1" font-size="8.6" text-anchor="end" fill="#222" font-weight="normal" >0.0</text>
<line x1="128.8" y1="623.1" x2="132.1" y2="623.1" stroke="#1a1a1a" stroke-width="1"/>
<text x="125.6" y="625.7" font-size="8.6" text-anchor="end" fill="#222" font-weight="normal" >1.5</text>
<line x1="128.8" y1="583.7" x2="132.1" y2="583.7" stroke="#1a1a1a" stroke-width="1"/>
<text x="125.6" y="586.3" font-size="8.6" text-anchor="end" fill="#222" font-weight="normal" >3.0</text>
<line x1="128.8" y1="544.3" x2="132.1" y2="544.3" stroke="#1a1a1a" stroke-width="1"/>
<text x="125.6" y="546.9" font-size="8.6" text-anchor="end" fill="#222" font-weight="normal" >4.5</text>
<line x1="128.8" y1="504.9" x2="132.1" y2="504.9" stroke="#1a1a1a" stroke-width="1"/>
<text x="125.6" y="507.5" font-size="8.6" text-anchor="end" fill="#222" font-weight="normal" >6.0</text>
<line x1="128.8" y1="465.5" x2="132.1" y2="465.5" stroke="#1a1a1a" stroke-width="1"/>
<text x="125.6" y="468.1" font-size="8.6" text-anchor="end" fill="#222" font-weight="normal" >7.5</text>
<line x1="131.5" y1="662.4" x2="427" y2="662.4" stroke="#1a1a1a" stroke-width="1.3"/>
<text transform="translate(103.8,561.4) rotate(-90)" x="0" y="3.22" font-size="9.0" text-anchor="middle" fill="#222" textLength="96.3" lengthAdjust="spacingAndGlyphs">% IFN&#947; CD4+/CD8+ T cells</text>
<rect x="145.0" y="656.7" width="9.800000000000011" height="5.699999999999932" fill="#3ea83a" stroke="#2d8a2a" stroke-width="0.5"/>
<rect x="164.0" y="650.6" width="8.900000000000006" height="11.799999999999955" fill="#5e1e68" stroke="#46124f" stroke-width="0.5"/>
<rect x="200.0" y="614.3" width="8.800000000000011" height="48.10000000000002" fill="#3ea83a" stroke="#2d8a2a" stroke-width="0.5"/>
<rect x="218.1" y="595.2" width="8.800000000000011" height="67.19999999999993" fill="#5e1e68" stroke="#46124f" stroke-width="0.5"/>
<rect x="247.8" y="618.8" width="9.199999999999989" height="43.60000000000002" fill="#3ea83a" stroke="#2d8a2a" stroke-width="0.5"/>
<rect x="266.0" y="609.3" width="9.100000000000023" height="53.10000000000002" fill="#5e1e68" stroke="#46124f" stroke-width="0.5"/>
<rect x="296.2" y="630.6" width="8.699999999999989" height="31.799999999999955" fill="#3ea83a" stroke="#2d8a2a" stroke-width="0.5"/>
<rect x="314.4" y="611.5" width="9.0" height="50.89999999999998" fill="#5e1e68" stroke="#46124f" stroke-width="0.5"/>
<rect x="344.0" y="626.2" width="9.100000000000023" height="36.19999999999993" fill="#3ea83a" stroke="#2d8a2a" stroke-width="0.5"/>
<rect x="362.1" y="607.9" width="9.699999999999989" height="54.5" fill="#5e1e68" stroke="#46124f" stroke-width="0.5"/>
<rect x="392.3" y="566.1" width="9.099999999999966" height="96.29999999999995" fill="#3ea83a" stroke="#2d8a2a" stroke-width="0.5"/>
<rect x="410.6" y="512.9" width="9.299999999999955" height="149.5" fill="#5e1e68" stroke="#46124f" stroke-width="0.5"/>
<line x1="149.9" y1="651.3" x2="149.9" y2="659.0" stroke="#1a1a1a" stroke-width="1.1"/>
<line x1="145.4" y1="651.3" x2="154.4" y2="651.3" stroke="#1a1a1a" stroke-width="1.3"/>
<line x1="145.4" y1="659.0" x2="154.4" y2="659.0" stroke="#1a1a1a" stroke-width="1.3"/>
<line x1="168.45" y1="637.7" x2="168.45" y2="662.0" stroke="#1a1a1a" stroke-width="1.1"/>
<line x1="164.4" y1="637.7" x2="172.5" y2="637.7" stroke="#1a1a1a" stroke-width="1.3"/>
<line x1="164.4" y1="662.0" x2="172.5" y2="662.0" stroke="#1a1a1a" stroke-width="1.3"/>
<line x1="204.4" y1="609.5" x2="204.4" y2="615.6" stroke="#1a1a1a" stroke-width="1.1"/>
<line x1="200.4" y1="609.5" x2="208.4" y2="609.5" stroke="#1a1a1a" stroke-width="1.3"/>
<line x1="200.4" y1="615.6" x2="208.4" y2="615.6" stroke="#1a1a1a" stroke-width="1.3"/>
<line x1="222.5" y1="580.2" x2="222.5" y2="606.2" stroke="#1a1a1a" stroke-width="1.1"/>
<line x1="218.5" y1="580.2" x2="226.5" y2="580.2" stroke="#1a1a1a" stroke-width="1.3"/>
<line x1="218.5" y1="606.2" x2="226.5" y2="606.2" stroke="#1a1a1a" stroke-width="1.3"/>
<line x1="252.4" y1="608.4" x2="252.4" y2="625.0" stroke="#1a1a1a" stroke-width="1.1"/>
<line x1="248.20000000000002" y1="608.4" x2="256.6" y2="608.4" stroke="#1a1a1a" stroke-width="1.3"/>
<line x1="248.20000000000002" y1="625.0" x2="256.6" y2="625.0" stroke="#1a1a1a" stroke-width="1.3"/>
<line x1="270.55" y1="602.4" x2="270.55" y2="611.9" stroke="#1a1a1a" stroke-width="1.1"/>
<line x1="266.4" y1="602.4" x2="274.70000000000005" y2="602.4" stroke="#1a1a1a" stroke-width="1.3"/>
<line x1="266.4" y1="611.9" x2="274.70000000000005" y2="611.9" stroke="#1a1a1a" stroke-width="1.3"/>
<line x1="300.54999999999995" y1="611.2" x2="300.54999999999995" y2="646.6" stroke="#1a1a1a" stroke-width="1.1"/>
<line x1="296.59999999999997" y1="611.2" x2="304.5" y2="611.2" stroke="#1a1a1a" stroke-width="1.3"/>
<line x1="296.59999999999997" y1="646.6" x2="304.5" y2="646.6" stroke="#1a1a1a" stroke-width="1.3"/>
<line x1="318.9" y1="596.8" x2="318.9" y2="622.8" stroke="#1a1a1a" stroke-width="1.1"/>
<line x1="314.79999999999995" y1="596.8" x2="323.0" y2="596.8" stroke="#1a1a1a" stroke-width="1.3"/>
<line x1="314.79999999999995" y1="622.8" x2="323.0" y2="622.8" stroke="#1a1a1a" stroke-width="1.3"/>
<line x1="348.55" y1="612.4" x2="348.55" y2="636.6" stroke="#1a1a1a" stroke-width="1.1"/>
<line x1="344.4" y1="612.4" x2="352.70000000000005" y2="612.4" stroke="#1a1a1a" stroke-width="1.3"/>
<line x1="344.4" y1="636.6" x2="352.70000000000005" y2="636.6" stroke="#1a1a1a" stroke-width="1.3"/>
<line x1="366.95000000000005" y1="585.2" x2="366.95000000000005" y2="627.1" stroke="#1a1a1a" stroke-width="1.1"/>
<line x1="362.5" y1="585.2" x2="371.40000000000003" y2="585.2" stroke="#1a1a1a" stroke-width="1.3"/>
<line x1="362.5" y1="627.1" x2="371.40000000000003" y2="627.1" stroke="#1a1a1a" stroke-width="1.3"/>
<line x1="396.85" y1="547.9" x2="396.85" y2="581.4" stroke="#1a1a1a" stroke-width="1.1"/>
<line x1="392.7" y1="547.9" x2="401.0" y2="547.9" stroke="#1a1a1a" stroke-width="1.3"/>
<line x1="392.7" y1="581.4" x2="401.0" y2="581.4" stroke="#1a1a1a" stroke-width="1.3"/>
<line x1="415.25" y1="491.7" x2="415.25" y2="530.9" stroke="#1a1a1a" stroke-width="1.1"/>
<line x1="411.0" y1="491.7" x2="419.5" y2="491.7" stroke="#1a1a1a" stroke-width="1.3"/>
<line x1="411.0" y1="530.9" x2="419.5" y2="530.9" stroke="#1a1a1a" stroke-width="1.3"/>
<polyline points="150.0,646.7 150.0,461.9 204.4,461.9 204.4,468.3" fill="none" stroke="#1a1a1a" stroke-width="1.0"/>
<polygon points="174.85,455.80 175.35,457.01 176.66,457.11 175.66,457.96 175.97,459.24 174.85,458.55 173.73,459.24 174.04,457.96 173.04,457.11 174.35,457.01" fill="#1a1a1a"/>
<polygon points="178.95,455.80 179.45,457.01 180.76,457.11 179.76,457.96 180.07,459.24 178.95,458.55 177.83,459.24 178.14,457.96 177.14,457.11 178.45,457.01" fill="#1a1a1a"/>
<polyline points="168.5,631.3 168.5,480.2 222.6,480.2 222.6,573.2" fill="none" stroke="#1a1a1a" stroke-width="1.0"/>
<polygon points="191.30,474.10 191.80,475.31 193.11,475.41 192.11,476.26 192.42,477.54 191.30,476.85 190.18,477.54 190.49,476.26 189.49,475.41 190.80,475.31" fill="#1a1a1a"/>
<polygon points="195.40,474.10 195.90,475.31 197.21,475.41 196.21,476.26 196.52,477.54 195.40,476.85 194.28,477.54 194.59,476.26 193.59,475.41 194.90,475.31" fill="#1a1a1a"/>
<polygon points="199.50,474.10 200.00,475.31 201.31,475.41 200.31,476.26 200.62,477.54 199.50,476.85 198.38,477.54 198.69,476.26 197.69,475.41 199.00,475.31" fill="#1a1a1a"/>
<polyline points="348.6,607.5 348.6,480.7 396.8,480.7 396.8,543.2" fill="none" stroke="#1a1a1a" stroke-width="1.0"/>
<polygon points="368.70,474.60 369.20,475.81 370.51,475.91 369.51,476.76 369.82,478.04 368.70,477.35 367.58,478.04 367.89,476.76 366.89,475.91 368.20,475.81" fill="#1a1a1a"/>
<polygon points="372.80,474.60 373.30,475.81 374.61,475.91 373.61,476.76 373.92,478.04 372.80,477.35 371.68,478.04 371.99,476.76 370.99,475.91 372.30,475.81" fill="#1a1a1a"/>
<polygon points="376.90,474.60 377.40,475.81 378.71,475.91 377.71,476.76 378.02,478.04 376.90,477.35 375.78,478.04 376.09,476.76 375.09,475.91 376.40,475.81" fill="#1a1a1a"/>
<polyline points="366.6,468.0 366.6,461.7 414.9,461.7 414.9,486.0" fill="none" stroke="#1a1a1a" stroke-width="1.0"/>
<polygon points="384.65,456.10 385.15,457.31 386.46,457.41 385.46,458.26 385.77,459.54 384.65,458.85 383.53,459.54 383.84,458.26 382.84,457.41 384.15,457.31" fill="#1a1a1a"/>
<polygon points="388.75,456.10 389.25,457.31 390.56,457.41 389.56,458.26 389.87,459.54 388.75,458.85 387.63,459.54 387.94,458.26 386.94,457.41 388.25,457.31" fill="#1a1a1a"/>
<polygon points="392.85,456.10 393.35,457.31 394.66,457.41 393.66,458.26 393.97,459.54 392.85,458.85 391.73,459.54 392.04,458.26 391.04,457.41 392.35,457.31" fill="#1a1a1a"/>
<polygon points="396.95,456.10 397.45,457.31 398.76,457.41 397.76,458.26 398.07,459.54 396.95,458.85 395.83,459.54 396.14,458.26 395.14,457.41 396.45,457.31" fill="#1a1a1a"/>
<text x="159.2" y="672.9" font-size="8.7" text-anchor="middle" fill="#222" font-weight="normal" >Not</text>
<text x="159.2" y="683.0" font-size="8.7" text-anchor="middle" fill="#222" font-weight="normal" >activated</text>
<text x="213.6" y="672.9" font-size="8.7" text-anchor="middle" fill="#222" font-weight="normal" >activated</text>
<text x="261.5" y="672.9" font-size="8.7" text-anchor="middle" fill="#222" font-weight="normal" >cntr</text>
<text x="261.5" y="683.0" font-size="8.7" text-anchor="middle" fill="#222" font-weight="normal" >inhibitor</text>
<text x="309.7" y="672.9" font-size="8.7" text-anchor="middle" fill="#222" font-weight="normal" >anti-</text>
<text x="309.7" y="683.0" font-size="8.7" text-anchor="middle" fill="#222" font-weight="normal" >miR-24</text>
<text x="357.8" y="672.9" font-size="8.7" text-anchor="middle" fill="#222" font-weight="normal" >cntr</text>
<text x="357.8" y="683.0" font-size="8.7" text-anchor="middle" fill="#222" font-weight="normal" >inhibitor</text>
<text x="406.0" y="672.9" font-size="8.7" text-anchor="middle" fill="#222" font-weight="normal" >anti-</text>
<text x="406.0" y="683.0" font-size="8.7" text-anchor="middle" fill="#222" font-weight="normal" >miR-24</text>
<line x1="145.4" y1="688.4" x2="227.1" y2="688.4" stroke="#1a1a1a" stroke-width="1.1"/>
<text x="186.25" y="698.7" font-size="8.7" text-anchor="middle" fill="#222" font-weight="normal" >T cells</text>
<line x1="247.7" y1="688.4" x2="323.0" y2="688.4" stroke="#1a1a1a" stroke-width="1.1"/>
<text x="285.35" y="698.7" font-size="8.7" text-anchor="middle" fill="#222" font-weight="normal" >U2932 MPA vec</text>
<line x1="343.9" y1="688.4" x2="420.0" y2="688.4" stroke="#1a1a1a" stroke-width="1.1"/>
<text x="381.95" y="698.7" font-size="8.7" text-anchor="middle" fill="#222" font-weight="normal" >U2932 EBNA2</text>
<rect x="443.2" y="553.2" width="6.5" height="6.3" fill="#3ea83a"/>
<rect x="443.2" y="568.5" width="6.5" height="6.2" fill="#5e1e68"/>
<text x="452.6" y="559.4" font-size="8.2" fill="#222">CD4<tspan font-size="5.5" dy="-3.3">+</tspan></text>
<text x="452.6" y="574.8" font-size="8.2" fill="#222">CD8<tspan font-size="5.5" dy="-3.3">+</tspan></text>
</svg>
</body></html>
